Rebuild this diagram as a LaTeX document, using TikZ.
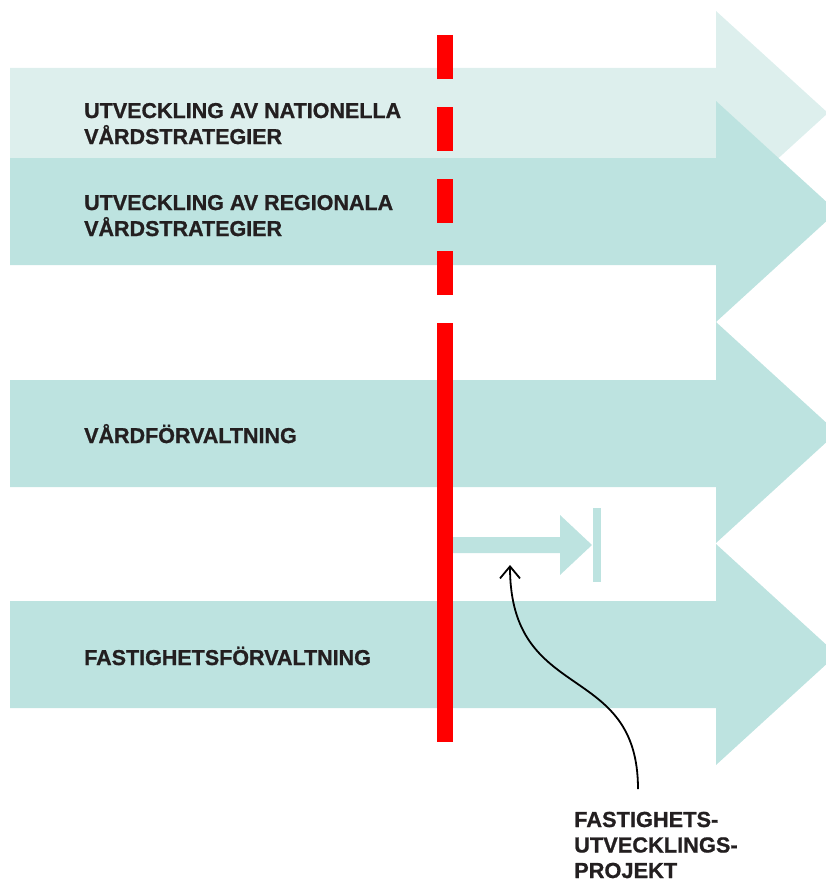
\documentclass[tikz,border=0pt]{standalone}
\usepackage{fontspec}
\setmainfont{Liberation Sans}[BoldFeatures={FakeBold=0.9}]
\usetikzlibrary{arrows.meta}
\definecolor{paleteal}{HTML}{DDEFED}
\definecolor{softteal}{HTML}{BDE3E0}
\definecolor{inkdark}{HTML}{231F20}
\definecolor{cutred}{HTML}{FF0000}
\begin{document}
\begin{tikzpicture}[x=1pt,y=-1pt,
  lbl/.style={anchor=base west, inner sep=0pt, align=left,
    font=\fontsize{21.5}{26}\selectfont\bfseries, text=inkdark},
  redcut/.style={draw=cutred, line width=16pt, line cap=butt},
  pointer/.style={draw=black, line width=1.8pt,
    -{Straight Barb[length=12pt,width=20pt,line width=1.8pt]}},
]
\useasboundingbox (0,0) rectangle (826,883);

\begin{scope}
  \clip (0,0) rectangle (826,883);
  % national strategies
  \fill[paleteal] (10,68) -- (716,68) -- (716,11) -- (828,113) -- (716,215)
    -- (716,158) -- (10,158) -- cycle;
  % regional strategies
  \fill[softteal] (10,158) -- (716,158) -- (716,101) -- (837,211.5) -- (716,322)
    -- (716,265) -- (10,265) -- cycle;
  % care administration
  \fill[softteal] (10,380) -- (716,380) -- (716,322) -- (837,432.5) -- (716,543)
    -- (716,487) -- (10,487) -- cycle;
  % property administration
  \fill[softteal] (10,601) -- (716,601) -- (716,544) -- (837,654.5) -- (716,765)
    -- (716,708) -- (10,708) -- cycle;
\end{scope}

% development project: short arrow ending at a stop bar
\fill[softteal] (453,537) -- (560,537) -- (560,515) -- (592,545) -- (560,575)
  -- (560,553) -- (453,553) -- cycle;
\fill[softteal] (593,508) rectangle (601,582);

% dividing line
\coordinate (cutA) at (445,35);
\coordinate (cutB) at (445,295);
\coordinate (cutC) at (445,323);
\coordinate (cutD) at (445,742);
\draw[redcut, dash pattern=on 44pt off 28pt] (cutA) -- (cutB);
\draw[redcut] (cutC) -- (cutD);

% labels (a multi-line node sits on the baseline of its last line)
\node[lbl] (nat) at (84,144) {UTVECKLING AV NATIONELLA\\VÅRDSTRATEGIER};
\node[lbl] (reg) at (84,236) {UTVECKLING AV REGIONALA\\VÅRDSTRATEGIER};
\node[lbl] (vard) at (84,443) {VÅRDFÖRVALTNING};
\node[lbl] (fast) at (84,665) {FASTIGHETSFÖRVALTNING};
\node[lbl, font=\fontsize{21.8}{25.5}\selectfont\bfseries] (proj) at (574,878)
  {FASTIGHETS-\\UTVECKLINGS-\\PROJEKT};

% pointer from the project label to the short arrow
\coordinate (pstart) at (638,789);
\coordinate (ptip) at (510,565);
\draw[pointer] (pstart) .. controls (638,660) and (510,705) .. (ptip);
\end{tikzpicture}
\end{document}
